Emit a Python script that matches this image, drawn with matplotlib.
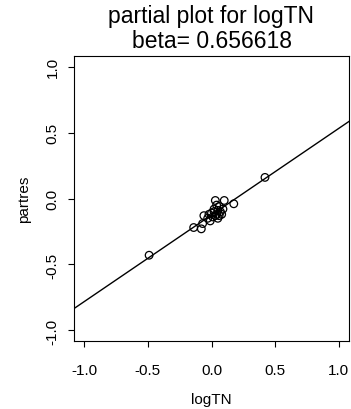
import matplotlib
matplotlib.use("Agg")
import matplotlib.pyplot as plt
import numpy as np

# data
logTN = [-0.49, 0.42, 0.03, 0.10, 0.175, -0.06, -0.14, -0.08, -0.07,
         0.00, 0.02, 0.04, 0.05, 0.06, -0.02, 0.01, 0.03, 0.07, 0.08,
         0.05, -0.03, 0.02, 0.06, -0.01, 0.09, 0.04]
partres = [-0.43, 0.16, -0.015, -0.015, -0.04, -0.13, -0.22, -0.23, -0.19,
           -0.11, -0.10, -0.12, -0.09, -0.13, -0.12, -0.14, -0.13, -0.10, -0.12,
           -0.15, -0.15, -0.08, -0.06, -0.17, -0.08, -0.05]
beta = 0.656618
intercept = -0.125
ticks = [-1.0, -0.5, 0.0, 0.5, 1.0]
tick_labels = ["-1.0", "-0.5", "0.0", "0.5", "1.0"]

plt.rcParams['font.family'] = ['Liberation Sans', 'DejaVu Sans']

fig = plt.figure(figsize=(3.51, 4.10), dpi=100)
W, H = 351, 410
l, r, t, b = 74, 349, 57, 342
ax = fig.add_axes([l / W, 1 - b / H, (r - l) / W, (b - t) / H])

ax.scatter(logTN, partres, s=30, facecolors='none', edgecolors='black', linewidths=0.9, zorder=3)
ax.axline((0, intercept), slope=beta, color='black', linewidth=1.0)

ax.set_xlim(-1.08, 1.08)
ax.set_ylim(-1.08, 1.08)
ax.set_xticks(ticks)
ax.set_xticklabels(tick_labels, fontsize=11)
ax.set_yticks(ticks)
ax.set_yticklabels(tick_labels, fontsize=11, rotation=90, va='center')
ax.tick_params(direction='out', length=4.5, width=0.8)
ax.tick_params(axis='x', pad=11)
ax.tick_params(axis='y', pad=6)
for s in ax.spines.values():
    s.set_linewidth(0.8)

ax.set_xlabel("logTN", fontsize=11, labelpad=11)
ax.set_ylabel("partres", fontsize=11, labelpad=10)
fig.text((l + r) / 2 / W, 1 - 17 / H, "partial plot for logTN", fontsize=16.5, ha='center', va='center')
fig.text((l + r) / 2 / W, 1 - 42 / H, "beta= 0.656618", fontsize=16.5, ha='center', va='center')

fig.savefig("out.png", dpi=100)
